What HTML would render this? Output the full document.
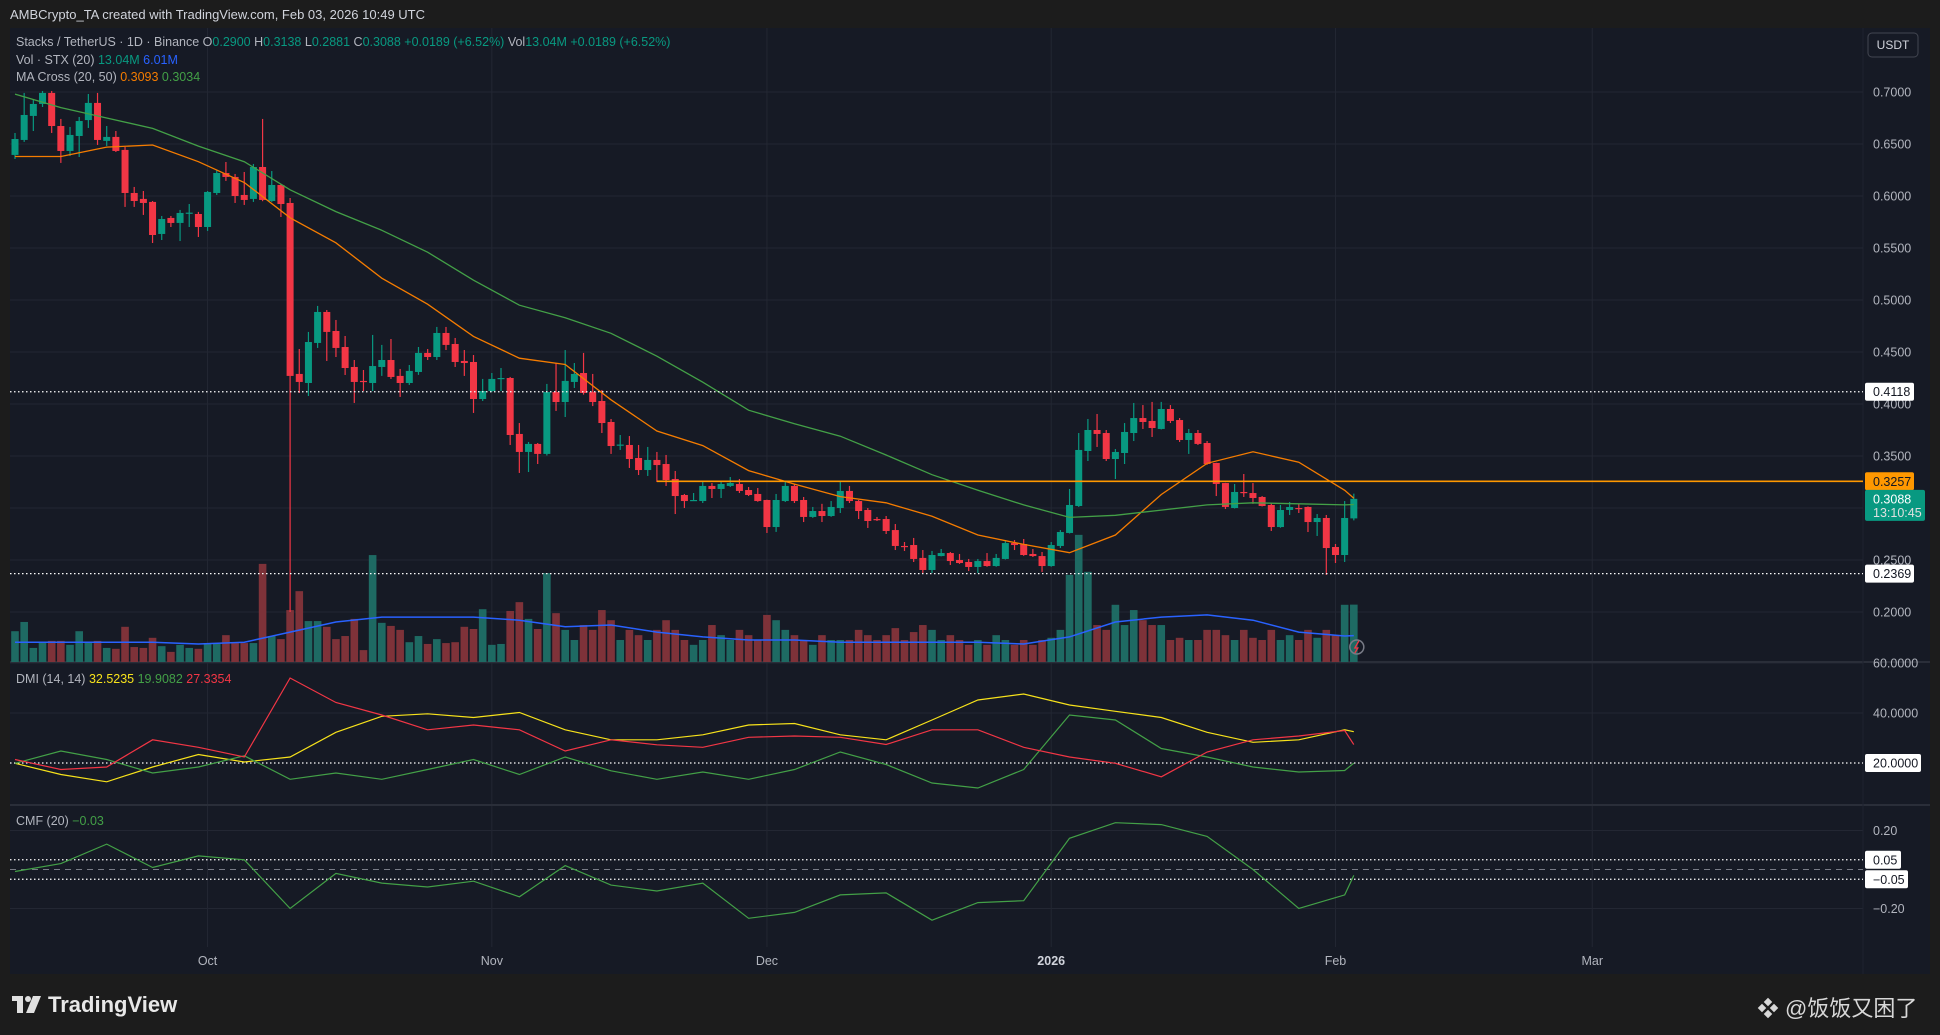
<!DOCTYPE html>
<html><head><meta charset="utf-8">
<style>
html,body{margin:0;padding:0;background:#1c1c1c;}
svg{display:block;font-family:"Liberation Sans","Noto Sans CJK SC",sans-serif;}
</style></head>
<body>
<svg id="chart" width="1940" height="1035" viewBox="0 0 1940 1035" xmlns="http://www.w3.org/2000/svg">
<rect x="0" y="0" width="1940" height="1035" fill="#1c1c1c"/>
<text x="10" y="19" fill="#d1d4dc" font-size="13">AMBCrypto_TA created with TradingView.com, Feb 03, 2026 10:49 UTC</text>
<rect x="10" y="28" width="1920" height="946" fill="#161a25"/>
<g id="grid"></g>
<g id="vol"></g>
<g id="candles"></g>
<g id="lines"></g>
<g id="axes"></g>
<g font-size="12.5">
  <text x="16" y="46" fill="#b2b5be">Stacks / TetherUS · 1D · Binance  <tspan fill="#b2b5be">O</tspan><tspan fill="#089981">0.2900</tspan>  <tspan>H</tspan><tspan fill="#089981">0.3138</tspan>  <tspan>L</tspan><tspan fill="#089981">0.2881</tspan>  <tspan>C</tspan><tspan fill="#089981">0.3088  +0.0189 (+6.52%)</tspan>  <tspan>Vol</tspan><tspan fill="#089981">13.04M  +0.0189 (+6.52%)</tspan></text>
  <text x="16" y="64" fill="#b2b5be">Vol · STX (20)  <tspan fill="#089981">13.04M</tspan>  <tspan fill="#2962ff">6.01M</tspan></text>
  <text x="16" y="81" fill="#b2b5be">MA Cross (20, 50)  <tspan fill="#f57c00">0.3093</tspan>  <tspan fill="#43a047">0.3034</tspan></text>
  <text x="16" y="683" fill="#b2b5be">DMI (14, 14)  <tspan fill="#f7e21b">32.5235</tspan>  <tspan fill="#43a047">19.9082</tspan>  <tspan fill="#f23645">27.3354</tspan></text>
  <text x="16" y="825" fill="#b2b5be">CMF (20)  <tspan fill="#43a047">−0.03</tspan></text>
</g>
<g>
  <rect x="1868" y="33" width="50" height="24" rx="4" fill="#161a25" stroke="#434651"/>
  <text x="1893" y="49" fill="#d1d4dc" font-size="12" text-anchor="middle">USDT</text>
</g>
<g>
  <g>
    <rect x="12" y="996" width="11" height="5" fill="#e0e0e0"/><rect x="17" y="996" width="6" height="17" fill="#e0e0e0"/>
    <circle cx="28" cy="999" r="3" fill="#e0e0e0"/><polygon points="33,996 41,996 34,1013 26,1013" fill="#e0e0e0"/>
    <text x="48" y="1012" fill="#e8e8e8" font-size="22" font-weight="bold">TradingView</text>
  </g>
  <g>
    <g transform="translate(1768,1008)" fill="#d8d8d8"><rect x="-3" y="-9" width="6" height="6" transform="rotate(45 0 -6)"/><rect x="-3" y="3" width="6" height="6" transform="rotate(45 0 6)"/><rect x="-9" y="-3" width="6" height="6" transform="rotate(45 -6 0)"/><rect x="3" y="-3" width="6" height="6" transform="rotate(45 6 0)"/></g>
    <text x="1785" y="1016" fill="#d8d8d8" font-size="22">@饭饭又困了</text>
  </g>
</g>
</svg>
<script>
// ---- data ----
const opens=[0.6395,0.6539,0.6770,0.6885,0.6991,0.6673,0.6433,0.6577,0.673,0.6895,0.653,0.6568,0.6443,0.6029,0.5972,0.5943,0.5635,0.5789,0.5741,0.5837,0.5827,0.5702,0.6029,0.6221,0.6183,0.601,0.5972,0.6279,0.5952,0.6106,0.5933,0.4289,0.4202,0.4587,0.4885,0.4702,0.4548,0.4356,0.4222,0.4202,0.4356,0.4423,0.427,0.4202,0.4308,0.4491,0.4452,0.4683,0.4577,0.4414,0.4404,0.4048,0.4125,0.4245,0.425,0.3712,0.3539,0.3616,0.352,0.4115,0.4019,0.4212,0.4298,0.4115,0.4029,0.3827,0.3606,0.3606,0.3481,0.3365,0.3462,0.3423,0.3279,0.3125,0.3077,0.3067,0.3212,0.3183,0.3212,0.3231,0.3173,0.3135,0.3077,0.2817,0.3067,0.3212,0.3077,0.2914,0.2971,0.2923,0.3,0.3164,0.3067,0.2981,0.2894,0.2894,0.2788,0.2635,0.2644,0.252,0.2404,0.2538,0.2567,0.25,0.2481,0.2433,0.249,0.2442,0.251,0.2663,0.2654,0.2558,0.2538,0.2442,0.2635,0.276,0.3019,0.3548,0.375,0.3721,0.3471,0.3529,0.3721,0.3865,0.3837,0.376,0.3952,0.3846,0.3654,0.3721,0.3625,0.3433,0.324,0.3,0.3154,0.3144,0.3106,0.3029,0.2817,0.2981,0.3,0.301,0.2865,0.2904,0.2625,0.2548,0.29];
const highs=[0.6606,0.6991,0.6923,0.701,0.701,0.6741,0.6664,0.676,0.6981,0.6991,0.6673,0.6625,0.6472,0.6087,0.6048,0.5952,0.5808,0.5808,0.5866,0.5923,0.5847,0.6048,0.625,0.6327,0.6212,0.6231,0.6308,0.6741,0.624,0.6116,0.5981,0.4529,0.4693,0.4943,0.4904,0.4808,0.4654,0.4423,0.4327,0.4664,0.4568,0.4625,0.4337,0.4375,0.4548,0.4529,0.4741,0.4741,0.4635,0.4519,0.4471,0.4241,0.4298,0.4346,0.426,0.3817,0.3635,0.3625,0.4193,0.4394,0.4519,0.4394,0.4491,0.4289,0.4135,0.3856,0.3702,0.3692,0.3606,0.3587,0.3539,0.351,0.3356,0.3135,0.3144,0.325,0.324,0.325,0.3298,0.3279,0.3202,0.3192,0.308,0.3135,0.325,0.3231,0.3106,0.301,0.304,0.3067,0.325,0.3212,0.3077,0.3,0.2914,0.2923,0.2846,0.2673,0.2712,0.2596,0.2587,0.2606,0.2577,0.2558,0.251,0.251,0.2567,0.2558,0.2692,0.2692,0.2702,0.2606,0.2577,0.2673,0.2788,0.3183,0.3721,0.3856,0.3904,0.375,0.3567,0.3817,0.401,0.399,0.402,0.402,0.399,0.3865,0.376,0.375,0.3644,0.3435,0.3242,0.3231,0.3327,0.324,0.3115,0.3048,0.3029,0.3058,0.304,0.3015,0.2942,0.2933,0.2654,0.3067,0.3138];
const lows=[0.6356,0.652,0.6625,0.6856,0.6606,0.6318,0.6385,0.6375,0.6654,0.6491,0.6481,0.6423,0.5895,0.5895,0.5818,0.5548,0.5577,0.5702,0.5567,0.5702,0.5606,0.5664,0.601,0.6145,0.5933,0.5914,0.5943,0.595,0.5943,0.5798,0.2,0.4106,0.4077,0.4539,0.4414,0.4452,0.4279,0.401,0.4125,0.4125,0.427,0.4241,0.4068,0.4183,0.428,0.4423,0.4423,0.4519,0.4356,0.427,0.3914,0.4029,0.4115,0.4125,0.3606,0.3337,0.3346,0.3423,0.3505,0.3933,0.3875,0.4154,0.409,0.398,0.3721,0.352,0.3558,0.3385,0.3317,0.3308,0.325,0.3212,0.2942,0.3,0.3067,0.3048,0.3096,0.3096,0.3202,0.3144,0.3115,0.306,0.276,0.277,0.3058,0.3048,0.2865,0.2905,0.2865,0.2915,0.2952,0.3048,0.2894,0.2808,0.2875,0.275,0.2596,0.2587,0.2481,0.2366,0.2375,0.2535,0.2452,0.2462,0.2394,0.2375,0.2435,0.2435,0.2505,0.2596,0.254,0.2529,0.2385,0.2435,0.2615,0.2755,0.301,0.3452,0.3587,0.3452,0.3279,0.3423,0.3644,0.376,0.3683,0.3755,0.3817,0.3635,0.352,0.3606,0.3415,0.3115,0.299,0.2995,0.3106,0.304,0.3015,0.2779,0.281,0.2933,0.2952,0.2769,0.2731,0.2356,0.2471,0.2481,0.2881];
const closes=[0.6548,0.6779,0.6885,0.6991,0.6673,0.6433,0.6587,0.6721,0.6895,0.6539,0.6568,0.6433,0.6029,0.5952,0.5933,0.5625,0.5779,0.5741,0.5837,0.584,0.5702,0.6039,0.6221,0.6183,0.6,0.5962,0.6279,0.5962,0.6106,0.5923,0.427,0.4212,0.4596,0.4885,0.4693,0.4539,0.4346,0.4212,0.4215,0.4365,0.4423,0.426,0.4202,0.4318,0.4491,0.4452,0.4683,0.4568,0.4404,0.4394,0.4048,0.4125,0.4241,0.425,0.3702,0.3539,0.3616,0.352,0.4115,0.4019,0.4222,0.4289,0.4106,0.4019,0.3817,0.3596,0.361,0.3471,0.3365,0.3462,0.3413,0.3269,0.3115,0.3067,0.3077,0.3212,0.3183,0.3231,0.324,0.3164,0.3125,0.3067,0.2817,0.3077,0.3212,0.3067,0.2914,0.2971,0.2923,0.301,0.3164,0.3067,0.2971,0.2875,0.2889,0.2779,0.2635,0.263,0.251,0.2404,0.2548,0.2567,0.249,0.2471,0.2433,0.249,0.2442,0.252,0.2663,0.2644,0.2548,0.2538,0.2442,0.2644,0.2769,0.3029,0.3558,0.375,0.3712,0.3471,0.3539,0.3731,0.3865,0.3827,0.3769,0.3952,0.3837,0.3654,0.3721,0.3616,0.3423,0.3231,0.301,0.3154,0.315,0.3096,0.3019,0.2817,0.2981,0.301,0.2995,0.2865,0.2904,0.2615,0.2548,0.2904,0.3088];
const volumes=[7.0,9.1,3.2,4.5,4.8,4.8,3.9,7.0,4.5,4.8,3.2,3.0,8.0,3.4,3.2,5.5,3.6,2.3,3.9,3.2,3.0,4.1,4.1,6.1,4.3,4.3,4.3,22.3,5.9,5.2,11.8,16.1,9.3,9.3,8.0,5.2,5.9,9.8,2.7,24.3,8.9,8.2,7.3,4.5,5.9,4.1,5.2,4.3,4.5,8.0,7.5,12.0,3.9,4.1,11.6,13.6,9.8,7.5,20.2,11.1,7.3,5.0,8.4,7.3,11.8,9.5,5.0,7.3,6.1,5.0,7.3,9.5,7.3,5.0,3.9,5.0,8.4,6.1,5.0,7.3,6.1,5.0,10.7,9.5,7.3,6.1,5.0,3.9,6.1,5.0,5.0,5.0,7.3,6.1,5.0,6.1,7.7,5.0,6.8,8.4,7.3,5.0,6.1,5.0,3.9,5.0,3.9,6.1,5.0,3.9,5.0,3.9,5.0,5.5,7.3,19.8,28.9,20.5,8.4,7.3,13.0,8.4,11.8,9.5,8.4,8.4,5.0,5.5,5.0,5.0,7.3,7.3,6.1,5.0,7.3,5.5,5.0,7.3,5.0,6.1,5.0,7.3,5.5,7.3,6.1,13.0,13.04];
// indicator samples (day index of each sample)
const sampleDays=[0,5,10,15,20,25,30,35,40,45,50,55,60,65,70,75,80,85,90,95,100,105,110,115,120,125,130,135,140,145,146];
const ma20=[0.638,0.638,0.647,0.649,0.633,0.613,0.579,0.555,0.521,0.496,0.465,0.444,0.438,0.404,0.374,0.360,0.336,0.323,0.311,0.305,0.292,0.274,0.265,0.257,0.274,0.313,0.343,0.354,0.344,0.317,0.3093];
const ma50=[0.698,0.685,0.675,0.665,0.648,0.633,0.606,0.585,0.567,0.546,0.519,0.495,0.483,0.468,0.446,0.421,0.394,0.381,0.369,0.351,0.332,0.317,0.303,0.291,0.293,0.298,0.303,0.305,0.304,0.303,0.3034];
const volMA=[4.5,4.5,4.5,4.5,4.1,4.5,6.8,9.1,10.2,10.2,10.2,9.5,8.0,8.4,6.8,5.7,5.0,5.0,4.5,4.5,4.5,4.5,4.1,5.7,9.1,10.2,10.7,9.5,6.8,5.9,6.01];
const adx=[19.9,15.4,12.5,18.4,23.4,20.4,22.4,32.3,38.7,39.7,38.2,40.2,33.3,29.3,29.3,31.3,35.2,35.8,31.3,29.3,37.2,45.2,47.6,43.2,40.7,38.2,32.3,28.3,29.3,33.3,32.52];
const diPlus=[19.9,24.8,21.4,16,18.4,22.9,13.5,16,13.5,17.4,21.4,15.4,22.4,16.9,13.5,16.4,13.5,17.4,24.4,19.4,12,10,17.4,39.2,37.2,25.8,22.4,18.4,16.4,17,19.91];
const diMinus=[21.4,17.4,18.4,29.3,26.3,22.4,54,44.2,39.2,33.3,35.2,33.3,24.8,29.3,27.3,26.3,30.3,30.8,30.3,27.4,33.3,33.3,26.3,22.4,19.9,14.5,24.4,29.3,30.8,33,27.34];
const cmf=[-0.01,0.03,0.13,0.01,0.07,0.05,-0.20,-0.02,-0.07,-0.09,-0.06,-0.14,0.02,-0.08,-0.11,-0.07,-0.25,-0.22,-0.13,-0.12,-0.26,-0.17,-0.16,0.16,0.24,0.23,0.17,0.0,-0.2,-0.13,-0.03];
const priceTicks=["0.7000","0.6500","0.6000","0.5500","0.5000","0.4500","0.4000","0.3500","0.3000","0.2500","0.2000"];
const dmiTicks=["60.0000","40.0000"];
const cmfTicks=["0.20","−0.20"];
const monthLabels=["Oct","Nov","Dec","2026","Feb","Mar"];
const monthDays=[21,52,82,113,144,172];
const levelHigh=0.4118, levelLow=0.2369, resistance=0.3257, resistanceStartDay=70, lastPrice=0.3088;

// ---- axis functions ----
const X=d=>15+d*9.17;
const Y=p=>404+(0.4-p)*1040;
const VY=v=>662-v*4.4;
const DY=v=>763-(v-20)*2.5;
const CY=v=>869.5-v*195;
const NS="http://www.w3.org/2000/svg";
function mk(tag,attrs,parent){const e=document.createElementNS(NS,tag);for(const k in attrs)e.setAttribute(k,attrs[k]);parent.appendChild(e);return e;}
const grid=document.getElementById('grid'),volG=document.getElementById('vol'),cG=document.getElementById('candles'),lG=document.getElementById('lines'),aG=document.getElementById('axes');
const GC="#232733";

// grid
priceTicks.forEach(t=>{const l=mk('line',{x1:10,x2:1863,y1:Y(parseFloat(t)),y2:Y(parseFloat(t)),stroke:GC},grid);

});
[60,40].forEach(v=>{const l=mk('line',{x1:10,x2:1863,y1:DY(v),y2:DY(v),stroke:GC},grid);

});
[0.2,-0.2].forEach(v=>{const l=mk('line',{x1:10,x2:1863,y1:CY(v),y2:CY(v),stroke:GC},grid);

});
monthDays.forEach(d=>{const l=mk('line',{x1:X(d),x2:X(d),y1:28,y2:947,stroke:GC},grid);

});
[662,805].forEach(y=>{const l=mk('line',{x1:10,x2:1930,y1:y,y2:y,stroke:"#2a2e39","stroke-width":2},grid);

});
const ax=mk('line',{x1:1863,x2:1863,y1:28,y2:974,stroke:"#1f2330"},grid);



// volume
volumes.forEach((v,i)=>{const up=closes[i]>=opens[i];
const r=mk('rect',{x:X(i)-3.8,y:VY(v),width:7.6,height:662-VY(v),fill:up?"#1e6a63":"#7e3239"},volG);

});
function pathOf(vals,fy){return vals.map((v,k)=>(k?"L":"M")+X(sampleDays[k]).toFixed(1)+","+fy(v).toFixed(1)).join(" ");}
const vm=mk('path',{d:pathOf(volMA,VY),fill:"none",stroke:"#2962ff","stroke-width":1.5},volG);



// candles
closes.forEach((c,i)=>{const o=opens[i],up=c>=o,col=up?"#089981":"#f23645";
const g=mk('g',{},cG);


mk('line',{x1:X(i),x2:X(i),y1:Y(highs[i]),y2:Y(lows[i]),stroke:col,"stroke-width":1.2},g);
const top=Y(Math.max(o,c)),bot=Y(Math.min(o,c));
mk('rect',{x:X(i)-3.5,y:top,width:7,height:Math.max(1.2,bot-top),fill:col},g);});

// MA lines
const m20=mk('path',{d:pathOf(ma20,Y),fill:"none",stroke:"#f57c00","stroke-width":1.3},lG);


const m50=mk('path',{d:pathOf(ma50,Y),fill:"none",stroke:"#43a047","stroke-width":1.3},lG);



// levels
function hline(y,x1,attrs,name){const l=mk('line',Object.assign({x1:x1,x2:1863,y1:y,y2:y},attrs),lG);

}
hline(Y(levelHigh),10,{stroke:"#ffffff","stroke-dasharray":"1.5,2.5","stroke-width":1.3},'support-level-high');
hline(Y(levelLow),10,{stroke:"#ffffff","stroke-dasharray":"1.5,2.5","stroke-width":1.3},'support-level-low');
hline(Y(resistance),X(resistanceStartDay),{stroke:"#ff9800","stroke-width":1.6},'resistance-level');
hline(DY(20),10,{stroke:"#ffffff","stroke-dasharray":"1.5,2.5","stroke-width":1.3},'dmi-20-level');
hline(CY(0.05),10,{stroke:"#ffffff","stroke-dasharray":"1.5,2.5","stroke-width":1.3},'cmf-upper-level');
hline(CY(-0.05),10,{stroke:"#ffffff","stroke-dasharray":"1.5,2.5","stroke-width":1.3},'cmf-lower-level');
hline(CY(0),10,{stroke:"#787b86","stroke-dasharray":"6,5","stroke-width":1},'cmf-zero-line');

// DMI & CMF
[[adx,"#f7e21b",'adx-line'],[diPlus,"#43a047",'di-plus-line'],[diMinus,"#f23645",'di-minus-line']].forEach(([a,c,n])=>{
const p=mk('path',{d:pathOf(a,DY),fill:"none",stroke:c,"stroke-width":1.2},lG);

});
const cp=mk('path',{d:pathOf(cmf,CY),fill:"none",stroke:"#43a047","stroke-width":1.2},lG);



// axis labels
function label(x,y,txt,attrs,name){const t=mk('text',Object.assign({x:x,y:y,"font-size":12.5,fill:"#b2b5be"},attrs),aG);t.textContent=txt;

return t;}
priceTicks.forEach(t=>label(1873,Y(parseFloat(t))+4.5,t,{},'price-tick-label'));
dmiTicks.forEach(t=>label(1873,DY(parseFloat(t))+4.5,t,{},'dmi-tick-label'));
cmfTicks.forEach(t=>label(1873,CY(parseFloat(t.replace('−','-')))+4.5,t,{},'cmf-tick-label'));
monthLabels.forEach((m,k)=>label(X(monthDays[k]),965,m,{"text-anchor":"middle","font-weight":m==="2026"?"bold":"normal",fill:m==="2026"?"#d1d4dc":"#b2b5be"},'x-axis-label'));
function tag(y,txt,bg,fg,name,w){const g=mk('g',{},aG);


mk('rect',{x:1865,y:y-9,width:w||49,height:18,fill:bg,rx:2},g);
const t=mk('text',{x:1873,y:y+4.5,"font-size":12.5,fill:fg},g);t.textContent=txt;}
tag(Y(levelHigh),levelHigh.toFixed(4),"#ffffff","#131722",'level-high-tag');
tag(Y(levelLow),levelLow.toFixed(4),"#ffffff","#131722",'level-low-tag');
tag(Y(resistance),resistance.toFixed(4),"#ff9800","#131722",'resistance-tag');
tag(DY(20),"20.0000","#ffffff","#131722",'dmi-20-tag',56);
tag(CY(0.05),"0.05","#ffffff","#131722",'cmf-upper-tag',36);
tag(CY(-0.05),"−0.05","#ffffff","#131722",'cmf-lower-tag',43);
const lg=mk('g',{},aG);


mk('rect',{x:1865,y:Y(lastPrice)-9,width:60,height:31,fill:"#089981",rx:2},lg);
const t1=mk('text',{x:1873,y:Y(lastPrice)+4.5,"font-size":12.5,fill:"#ffffff"},lg);t1.textContent=lastPrice.toFixed(4);
const t2=mk('text',{x:1873,y:Y(lastPrice)+18,"font-size":12.5,fill:"#e0e0e0"},lg);t2.textContent="13:10:45";
const ic=mk('g',{},aG);


mk('circle',{cx:X(146)+3,cy:647,r:7,fill:"none",stroke:"#787b86","stroke-width":1.5},ic);
mk('path',{d:`M${X(146)+5},641 L${X(146)+1},648 L${X(146)+4},648 L${X(146)+1},653`,fill:"none",stroke:"#f23645","stroke-width":1.3},ic);
</script>
</body></html>
